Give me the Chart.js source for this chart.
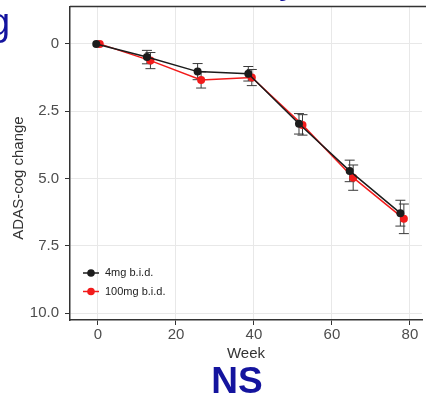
<!DOCTYPE html>
<html>
<head>
<meta charset="utf-8">
<script src="https://cdn.jsdelivr.net/npm/chart.js@4.4.0/dist/chart.umd.min.js"></script>
<style>
  html, body { margin: 0; padding: 0; background: #fff; }
  canvas { display: block; }
</style>
</head>
<body>
<canvas id="adas" width="426" height="398"></canvas>
<script>
// data
const weeks = [0, 13, 26, 39, 52, 65, 78];
const mean4mg = [0, 0.49, 1.03, 1.11, 2.97, 4.72, 6.29];
const err4mg = [0, 0.25, 0.30, 0.27, 0.38, 0.40, 0.48];
const mean100mg = [0, 0.62, 1.34, 1.25, 3.01, 4.97, 6.50];
const err100mg = [0, 0.30, 0.30, 0.30, 0.38, 0.47, 0.55];
const seriesNames = ['4mg b.i.d.', '100mg b.i.d.'];
const xTicks = [0, 20, 40, 60, 80];
const yTicks = [0, 2.5, 5, 7.5, 10];

const dodge = 0.45;
const blue = '#14149e';

// error bars under the lines
const errorBars = {
  id: 'errorBars',
  beforeDatasetsDraw(chart) {
    const {ctx, scales: {x, y}} = chart;
    ctx.save();
    chart.data.datasets.forEach(ds => {
      ctx.strokeStyle = '#3a3a3a';
      ctx.lineWidth = 1;
      ds.data.forEach((p, i) => {
        const e = ds.errors[i];
        if (!e) return;
        const px = x.getPixelForValue(p.x);
        const y1 = y.getPixelForValue(p.y - e);
        const y2 = y.getPixelForValue(p.y + e);
        ctx.beginPath();
        ctx.moveTo(px, y1); ctx.lineTo(px, y2);
        ctx.moveTo(px - 5, y1); ctx.lineTo(px + 5, y1);
        ctx.moveTo(px - 5, y2); ctx.lineTo(px + 5, y2);
        ctx.stroke();
      });
    });
    ctx.restore();
  }
};

// legend inside the panel, panel top border, y title and slide text
const extras = {
  id: 'extras',
  afterDraw(chart) {
    const {ctx, chartArea: a} = chart;
    ctx.save();
    // top border
    ctx.strokeStyle = '#333';
    ctx.lineWidth = 1.5;
    ctx.beginPath();
    ctx.moveTo(a.left, a.top); ctx.lineTo(chart.width, a.top);
    ctx.stroke();

    // legend
    chart.data.datasets.forEach((ds, i) => {
      const ly = a.bottom - 47 + i * 18.5;
      const lx = a.left + 20;
      ctx.strokeStyle = ds.borderColor;
      ctx.lineWidth = 1.5;
      ctx.beginPath();
      ctx.moveTo(lx - 7, ly); ctx.lineTo(lx + 9, ly);
      ctx.stroke();
      ctx.fillStyle = ds.borderColor;
      ctx.beginPath();
      ctx.arc(lx + 1, ly, 3.8, 0, Math.PI * 2);
      ctx.fill();
      ctx.fillStyle = '#222';
      ctx.font = '11px "Liberation Sans", Arial, sans-serif';
      ctx.textBaseline = 'middle';
      ctx.textAlign = 'left';
      ctx.fillText(ds.label, lx + 15, ly);
    });

    // y axis title
    ctx.save();
    ctx.translate(19, 178);
    ctx.rotate(-Math.PI / 2);
    ctx.fillStyle = '#333';
    ctx.font = '15px "Liberation Sans", Arial, sans-serif';
    ctx.textAlign = 'center';
    ctx.textBaseline = 'middle';
    ctx.fillText('ADAS-cog change', 0, 0);
    ctx.restore();

    // bits of the slide around the plot
    ctx.fillStyle = blue;
    ctx.textAlign = 'left';
    ctx.textBaseline = 'alphabetic';
    ctx.font = '38px "Liberation Sans", Arial, sans-serif';
    ctx.fillText('g', -11, 35);
    ctx.fillText('y', 279, -7);
    ctx.font = 'bold 37px "Liberation Sans", Arial, sans-serif';
    ctx.textAlign = 'center';
    ctx.fillText('NS', 237, 393);
    ctx.restore();
  }
};

const ctx = document.getElementById('adas');
const adasChart = new Chart(ctx, {
  type: 'line',
  data: {
    datasets: [{
      label: seriesNames[0],
      data: weeks.map((w, i) => ({x: w - dodge, y: mean4mg[i]})),
      errors: err4mg,
      borderColor: '#1c1c1c',
      backgroundColor: '#1c1c1c',
      borderWidth: 1.5,
      pointRadius: 4,
      pointBorderWidth: 0,
      tension: 0
    },
    {
      label: seriesNames[1],
      data: weeks.map((w, i) => ({x: w + dodge, y: mean100mg[i]})),
      errors: err100mg,
      borderColor: '#f21b1b',
      backgroundColor: '#f21b1b',
      borderWidth: 1.5,
      pointRadius: 4,
      pointBorderWidth: 0,
      tension: 0
    }]
  },
  options: {
    responsive: false,
    animation: false,
    devicePixelRatio: 1,
    layout: { padding: { top: 6.5, right: -4, left: 0, bottom: 0 } },
    plugins: {
      legend: { display: false },
      tooltip: { enabled: false }
    },
    scales: {
      x: {
        type: 'linear',
        min: -7.18,
        max: 83.1,
        afterBuildTicks: s => { s.ticks = xTicks.map(v => ({value: v})); },
        afterFit: s => { s.height = 78; s.paddingLeft = 0; s.paddingRight = 0; },
        grid: { color: '#e8e8e8', lineWidth: 1, tickColor: '#333', tickLength: 5 },
        border: { color: '#333', width: 1.5 },
        ticks: {
          color: '#4d4d4d',
          padding: 1,
          maxRotation: 0,
          font: { family: '"Liberation Sans", Arial, sans-serif', size: 15 }
        },
        title: {
          display: true,
          text: 'Week',
          color: '#333',
          padding: { top: 0, bottom: 35 },
          font: { family: '"Liberation Sans", Arial, sans-serif', size: 15 }
        }
      },
      y: {
        type: 'linear',
        reverse: true,
        min: -1.39,
        max: 10.26,
        afterBuildTicks: s => { s.ticks = yTicks.map(v => ({value: v})); },
        afterFit: s => { s.width = 70; s.paddingTop = 0; s.paddingBottom = 0; },
        grid: { color: '#e8e8e8', lineWidth: 1, tickColor: '#333', tickLength: 5 },
        border: { color: '#333', width: 1.5 },
        ticks: {
          color: '#4d4d4d',
          padding: 6,
          callback: v => v === 0 ? '0' : v.toFixed(1),
          font: { family: '"Liberation Sans", Arial, sans-serif', size: 15 }
        }
      }
    }
  },
  plugins: [errorBars, extras]
});
</script>
</body>
</html>
